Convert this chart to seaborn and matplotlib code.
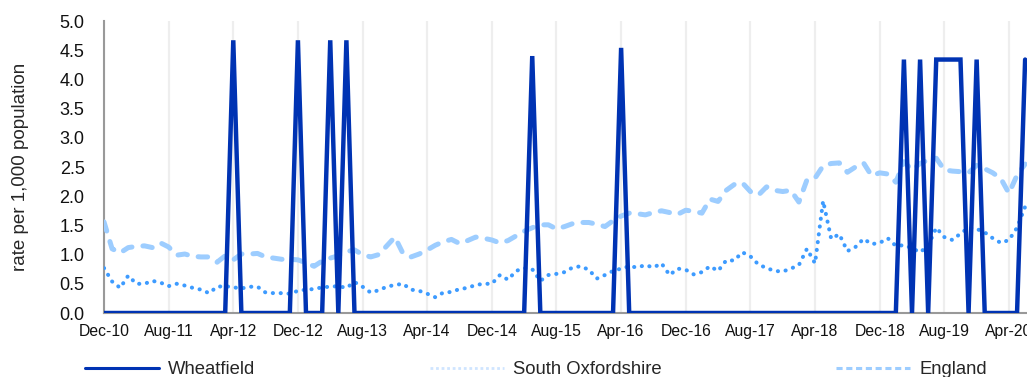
import numpy as np
import pandas as pd
import matplotlib
matplotlib.use("Agg")
import matplotlib.pyplot as plt
from matplotlib.lines import Line2D
import seaborn as sns

# ---------------- data ----------------
tick_labels = ["Dec-10", "Aug-11", "Apr-12", "Dec-12", "Aug-13", "Apr-14", "Dec-14",
               "Aug-15", "Apr-16", "Dec-16", "Aug-17", "Apr-18", "Dec-18", "Aug-19", "Apr-20"]

wheatfield_peaks = {16: 4.67, 24: 4.67, 28: 4.67, 30: 4.67, 53: 4.40, 64: 4.54,
                    99: 4.34, 101: 4.34, 103: 4.34, 104: 4.34, 105: 4.34, 106: 4.34,
                    108: 4.34, 114: 4.34}

south_oxon = [0.77, 0.54, 0.43, 0.64, 0.50, 0.50, 0.55, 0.52, 0.46, 0.50,
              0.47, 0.43, 0.40, 0.34, 0.45, 0.46, 0.44, 0.42, 0.45, 0.45,
              0.35, 0.34, 0.34, 0.33, 0.38, 0.40, 0.41, 0.44, 0.45, 0.46,
              0.43, 0.53, 0.45, 0.35, 0.39, 0.45, 0.48, 0.50, 0.40, 0.38,
              0.33, 0.27, 0.35, 0.36, 0.41, 0.43, 0.48, 0.50, 0.50, 0.65,
              0.57, 0.72, 0.77, 0.75, 0.55, 0.65, 0.67, 0.70, 0.78, 0.80,
              0.74, 0.59, 0.65, 0.72, 0.76, 0.80, 0.78, 0.82, 0.78, 0.85,
              0.65, 0.76, 0.74, 0.66, 0.70, 0.80, 0.72, 0.90, 0.90, 1.04,
              0.97, 0.83, 0.77, 0.72, 0.71, 0.76, 0.82, 1.10, 0.85, 1.92,
              1.27, 1.35, 1.06, 1.13, 1.27, 1.18, 1.20, 1.28, 1.15, 1.16,
              1.11, 1.04, 1.15, 1.46, 1.30, 1.25, 1.36, 1.46, 1.44, 1.38,
              1.28, 1.20, 1.25, 1.46, 1.82]

england = [1.56, 1.10, 1.03, 1.12, 1.14, 1.15, 1.12, 1.20, 1.13, 0.99,
           1.01, 0.97, 0.96, 0.96, 0.87, 0.98, 0.91, 1.01, 1.01, 1.02,
           0.96, 0.94, 0.92, 0.92, 0.91, 0.86, 0.80, 0.89, 0.94, 0.98,
           1.05, 1.08, 1.00, 0.96, 1.00, 1.15, 1.30, 1.02, 0.96, 1.01,
           1.08, 1.16, 1.22, 1.26, 1.19, 1.24, 1.30, 1.28, 1.25, 1.20,
           1.24, 1.32, 1.40, 1.46, 1.51, 1.51, 1.44, 1.48, 1.53, 1.55,
           1.55, 1.52, 1.48, 1.58, 1.66, 1.71, 1.70, 1.68, 1.72, 1.75,
           1.72, 1.69, 1.76, 1.74, 1.71, 1.95, 1.91, 2.10, 2.20, 2.23,
           2.08, 2.02, 2.16, 2.10, 2.08, 2.10, 1.90, 2.28, 2.31, 2.52,
           2.56, 2.57, 2.41, 2.50, 2.57, 2.35, 2.40, 2.38, 2.24, 2.59,
           2.45, 2.56, 2.62, 2.65, 2.45, 2.43, 2.42, 2.40, 2.53, 2.47,
           2.40, 2.30, 2.05, 2.36, 2.55]

n_months = len(england)
months = np.arange(n_months)
wheatfield = [wheatfield_peaks.get(i, 0.0) for i in range(n_months)]

df = pd.DataFrame({"month": months, "Wheatfield": wheatfield,
                   "South Oxfordshire": south_oxon, "England": england})

# ---------------- style ----------------
sns.set_style("white")
plt.rcParams["font.family"] = ["Liberation Sans", "DejaVu Sans"]

c_wheat = "#0033b3"
c_soxon = "#3d9bff"
c_eng = "#9dcdff"

fig = plt.figure(figsize=(10.27, 3.77), dpi=100)
px_per_month = 8.08
xmax = 120
ax = fig.add_axes([104 / 1027, 64 / 377, xmax * px_per_month / 1027, 292 / 377])

sns.lineplot(data=df, x="month", y="England", ax=ax, color=c_eng, lw=3.6,
             linestyle=(0, (1.9, 2.2)), dash_capstyle="round", zorder=3)
sns.lineplot(data=df, x="month", y="South Oxfordshire", ax=ax, color=c_soxon, lw=2.9,
             linestyle=(0, (0.05, 1.9)), dash_capstyle="round", zorder=4)
sns.lineplot(data=df, x="month", y="Wheatfield", ax=ax, color=c_wheat, lw=3.2,
             solid_joinstyle="miter", zorder=5)

ax.set_xlim(0, xmax)
ax.set_ylim(0, 5)
ax.set_xticks(months[::8])
ax.set_xticklabels(tick_labels, fontsize=11.3)
yt = np.arange(0, 5.01, 0.5)
ax.set_yticks(yt)
ax.set_yticklabels([f"{v:.1f}" for v in yt], fontsize=13)
ax.set_xlabel("")
ax.set_ylabel("rate per 1,000 population", fontsize=13.5, labelpad=22)

ax.grid(axis="x", color="#eeeeee", lw=1.6)
ax.grid(axis="y", visible=False)
ax.set_axisbelow(True)
for s in ["top", "right"]:
    ax.spines[s].set_visible(False)
for s in ["left", "bottom"]:
    ax.spines[s].set_color("#999999")
    ax.spines[s].set_linewidth(1.5)
ax.tick_params(axis="x", length=4, width=1.2, color="#999999", pad=4, labelcolor="#111111")
ax.tick_params(axis="y", length=4, width=1.2, color="#999999", pad=10, labelcolor="#111111")

handles = [Line2D([], [], color=c_wheat, lw=2.2),
           Line2D([], [], color="#cfe5ff", lw=2.0, linestyle=(0, (1, 1))),
           Line2D([], [], color=c_eng, lw=2.2, linestyle=(0, (2, 1.2)))]
fig.legend(handles, ["Wheatfield", "South Oxfordshire", "England"], loc="center left",
           bbox_to_anchor=(85 / 1027, 7 / 377), ncol=3, frameon=False, fontsize=13.3,
           handlelength=4.0, handletextpad=0.5, columnspacing=9.45, borderpad=0,
           borderaxespad=0)

fig.savefig("out.png", dpi=100)
